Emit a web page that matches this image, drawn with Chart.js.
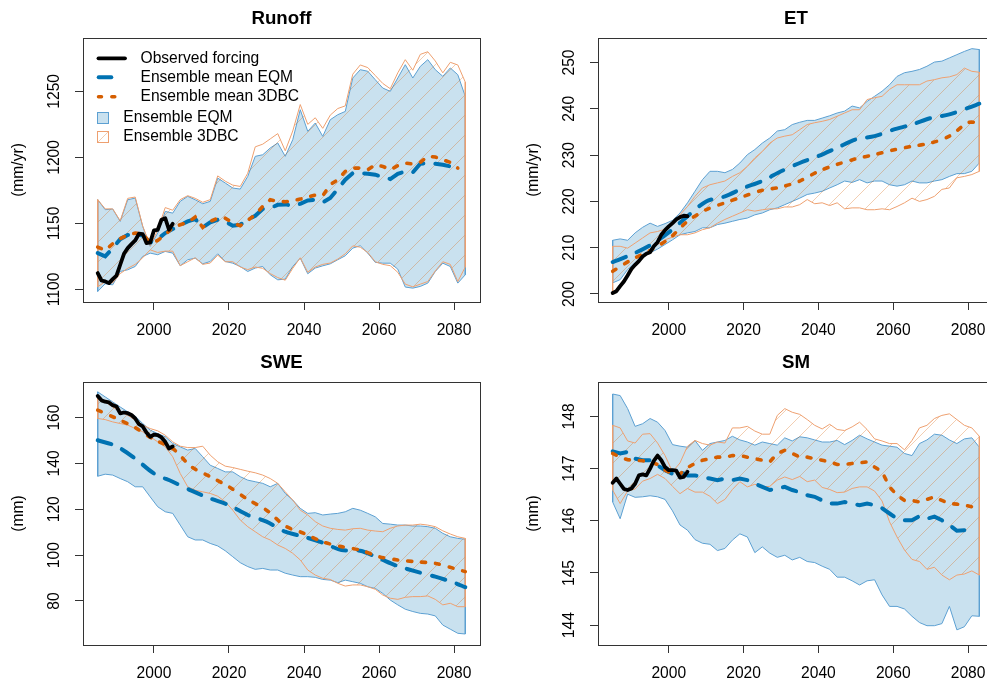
<!DOCTYPE html>
<html><head><meta charset="utf-8">
<script src="https://cdn.jsdelivr.net/npm/chart.js@4.4.1/dist/chart.umd.min.js"></script>
<style>
html,body{margin:0;padding:0;background:#fff;overflow:hidden;width:987px;height:684px;position:relative;}
canvas{position:absolute;}
</style></head><body>
<canvas id="c1" width="494" height="342" style="left:0;top:0"></canvas>
<canvas id="c2" width="510" height="342" style="left:494px;top:0"></canvas>
<canvas id="c3" width="494" height="342" style="left:0;top:342px"></canvas>
<canvas id="c4" width="510" height="342" style="left:494px;top:342px"></canvas>
<script>
// ---------- x positions ----------
const bandYears = [1985,1987,1989,1991,1993,1995,1997,1999,2001,2003,2005,2007,2009,2011,2013,2015,2017,2019,2021,2023,2025,2027,2029,2031,2033,2035,2037,2039,2041,2043,2045,2047,2049,2051,2053,2055,2057,2059,2061,2063,2065,2067,2069,2071,2073,2075,2077,2079,2081,2083];
const obsYears = [1985,1986,1987,1988,1989,1990,1991,1992,1993,1994,1995,1996,1997,1998,1999,2000,2001,2002,2003,2004,2005];
const meanYears5 = [1985,1990,1995,2000,2005,2010,2015,2020,2025,2030,2035,2040,2045,2050,2055,2060,2065,2070,2075,2080,2083];
const xTicks = [2000,2020,2040,2060,2080];

// ---------- Runoff ----------
const runoffTicks = [1100,1150,1200,1250];
const runoffEqmUpper = [1167.9,1160.4,1160.9,1151.5,1167.9,1169.2,1147.7,1132.6,1142.7,1159.1,1157.8,1166.7,1170.5,1167.9,1164.9,1166.7,1184.3,1180.6,1176.8,1176.0,1185.6,1200.8,1202.0,1207.1,1210.9,1200.8,1213.4,1236.1,1219.7,1226.0,1215.9,1228.5,1232.3,1234.8,1260.1,1266.4,1265.2,1258.8,1252.5,1250.0,1260.1,1270.2,1260.1,1268.9,1274.0,1266.4,1261.4,1267.7,1262.6,1246.2];
const runoffEqmLower = [1098.5,1104.3,1103.5,1113.6,1114.9,1117.4,1125,1127.5,1126.3,1128.8,1127.5,1117.9,1122.5,1123.7,1119.4,1121.2,1127,1121.2,1119.9,1117.4,1113.6,1116.2,1117.4,1111.1,1107.3,1107.8,1117.4,1123.7,1111.9,1116.2,1117.9,1119.4,1122.5,1125.5,1131.3,1133.1,1127.5,1120.5,1119.9,1119.9,1115.4,1101.8,1101,1102.3,1104.8,1113.6,1119.9,1117.4,1104.8,1111.1];
const runoff3dbcUpper = [1168,1161,1161,1152,1169,1170,1148,1133,1145,1162,1160,1168,1171,1169,1166,1168,1186,1182,1179,1178,1188,1208,1210,1214,1218,1205,1220,1240,1225,1230,1222,1232,1237,1239,1263,1270,1268,1262,1256,1252,1264,1274,1266,1278,1280,1273,1264,1272,1270,1257];
const runoff3dbcLower = [1102,1106,1105,1112,1116,1119,1124,1130,1128,1129,1129,1118,1121,1124,1119,1120,1126,1121,1121,1117,1115,1117,1116,1112,1109,1107,1116,1124,1113,1117,1119,1120,1123,1127,1133,1132,1128,1121,1119,1118,1113,1104,1102,1104,1106,1114,1121,1119,1106,1117];
const runoffEqmMean = [1127.5,1125,1131.3,1138.1,1141.2,1141.9,1140.9,1135.6,1138.1,1142.7,1145.7,1148.7,1151.5,1153.3,1147,1150.8,1152.8,1151.5,1148.2,1149,1152.8,1155.8,1160.9,1161.6,1164.1,1164.4,1163.4,1164.9,1167.4,1167.9,1165.9,1169.2,1176,1183.1,1188.1,1188.1,1187.6,1186.9,1185.1,1183.6,1187.6,1189.4,1188.6,1195.2,1195.7,1195.2,1194.4,1193.2,1189.4,null];
const runoff3dbcMean = [1132.1,1129.5,1134.6,1138.6,1141.2,1142.7,1142.2,1135.1,1137.1,1141.4,1147,1149,1150.8,1154.8,1147,1151.5,1154,1154,1150.3,1148.2,1152.3,1156.6,1162.9,1167.9,1166.7,1166.4,1167.2,1168.4,1169.9,1171.5,1171,1179.3,1183.1,1189.4,1191.9,1191.9,1190.7,1194.4,1193.2,1190.7,1193.7,1195.7,1195,1196.2,1200.8,1200.3,1198.2,1196.2,1191.9,null];
const runoffObs = [1112.4,1106.8,1106.1,1104.8,1107.8,1110.4,1118.7,1127,1131.3,1134.3,1137.1,1142.2,1141.9,1135.1,1135.6,1144.7,1145.2,1152.8,1154,1145.2,1149.7];

// ---------- ET ----------
const etTicks = [200,210,220,230,240,250];
const etEqmUpper = [211.6,211.9,211.6,213.2,214.4,215.3,214.6,215.2,215.9,217.5,219.7,222.2,224.7,226.5,226.5,226.2,226.9,228.3,230.1,231.2,232.6,233.7,235.2,235.5,236.6,237.1,237.5,237.5,238.0,238.5,239.1,239.5,240.6,240.2,241.6,242.7,243.8,245.2,247.0,247.8,248.1,248.5,249.2,250.1,250.3,251.0,251.7,252.4,253.0,252.8];
const etEqmLower = [202.4,203.1,205.3,206.7,208.1,208.9,209.7,210.7,211.7,212.8,213.2,213.5,214.3,214.3,215.0,215.3,215.7,216.1,216.4,217.1,217.5,218.2,218.6,219.3,220.0,220.7,221.5,221.8,222.2,222.9,223.6,224.4,224.1,224.7,224.0,224.4,224.4,223.6,223.3,223.6,224.4,224.0,224.0,224.4,224.7,225.4,226.0,226.0,226.5,228.3];
const et3dbcUpper = [210.3,210.3,209.9,211.0,212.1,213.2,213.5,214.0,215.3,217.1,218.9,221.1,222.9,223.6,224.0,224.4,225.4,226.2,227.6,229.4,230.8,232.6,233.7,234.1,234.4,235.5,236.6,237.0,237.3,237.7,238.4,239.1,239.8,239.8,242.0,242.4,242.7,244.2,245.2,245.2,245.2,245.2,246.0,246.3,246.7,246.9,247.4,248.8,248.1,247.9];
const et3dbcLower = [200.2,201.7,203.8,206.0,207.8,209.6,210.7,211.7,212.3,212.8,212.8,213.2,213.9,214.3,215.3,216.1,216.8,217.5,218.2,217.9,218.2,218.4,218.4,218.8,218.8,219.3,220.4,219.5,219.7,219.1,219.7,218.4,218.6,218.6,218.2,218.2,218.4,218.2,218.9,219.7,220.7,220.0,220.4,221.1,222.6,222.9,225.1,225.4,225.8,226.5];
const etEqmMean = [206.9,208.5,210.5,213.3,216.8,220.0,221.1,222.9,224.4,226.5,228.3,229.8,231.6,233.4,234.1,235.5,236.6,238.0,238.8,240.2,241.1];
const et3dbcMean = [204.9,207.4,209.4,211.9,215.7,218.2,219.7,221.1,222.4,223.1,224.4,226.5,228.0,229.2,230.1,231.1,231.9,232.6,234.1,237.0,237.0];
const etObs = [200.2,200.6,201.7,202.7,204.0,205.4,206.3,207.1,208.1,208.7,209.0,210.3,211.2,212.8,213.8,214.6,215.3,216.1,216.6,216.9,216.8];

// ---------- SWE ----------
const sweTicks = [80,100,120,140,160];
const sweEqmUpper = [171.2,169.0,166.8,164.6,162.5,160.6,157.4,154.5,153.0,151.6,148.7,147.2,145.8,146.5,142.9,139.2,137.8,136.3,136.3,134.2,132.7,132.0,131.3,129.8,131.3,126.9,124.0,120.4,118.2,118.5,117.5,117.9,118.2,118.9,120.4,119.6,118.2,116.7,113.8,113.5,113.1,113.1,112.7,112.7,112.4,111.7,109.5,108.0,107.3,106.9];
const sweEqmLower = [134.4,135.3,134.9,133.4,132.0,129.8,129.8,125.4,121.1,118.9,118.2,113.1,108.0,106.6,106.6,105.1,104.0,101.9,99.3,96.7,95.0,93.8,94.2,93.5,93.5,92.1,91.3,90.6,90.6,90.3,89.4,89.1,88.0,89.1,88.4,87.7,86.2,85.5,83.3,80.4,78.3,76.4,75.4,74.6,74.3,73.5,69.5,67.7,65.9,65.6];
const swe3dbcUpper = [169.7,166.8,164.6,162.5,161.0,158.8,156.7,155.2,154.2,152.3,149.4,147.5,146.9,146.9,147.5,143.6,140.7,138.8,138.2,137.4,136.6,135.9,134.9,133.4,131.3,127.6,124.0,119.6,117.5,114.6,112.7,111.7,111.2,110.9,111.5,111.7,110.9,110.5,110.2,111.7,112.7,113.1,113.1,113.5,113.1,112.4,110.6,109.2,108.0,107.3];
const swe3dbcLower = [159.6,159.1,158.1,157.4,156.7,155.2,153.8,151.6,149.4,147.2,142.9,135.6,129.8,128.3,127.6,126.9,125.7,123.3,119.6,115.3,112.4,110.2,108.0,106.6,104.4,102.9,100.8,97.9,93.5,91.3,89.9,89.4,87.7,86.5,87.0,87.0,86.2,85.1,82.6,81.2,80.7,81.6,81.9,81.9,82.2,80.7,78.3,79.0,77.5,77.5];
const sweEqmMean = [150.1,147.5,142.1,135.6,132.0,128.1,124.7,121.8,117.5,114.6,110.2,108.0,105.4,102.2,101.9,98.6,95.2,92.8,90.6,88.0,86.0];
const swe3dbcMean = [163.2,159.6,155.6,150.4,146.5,138.5,134.2,129.8,124.3,119.6,112.7,109.5,105.8,103.7,102.2,99.3,97.9,97.1,96.4,94.2,92.8];
const sweObs = [169.4,167.5,166.9,166.6,165.4,164.8,161.8,162.2,161.9,161.1,159.6,157.1,156.1,153.5,151.6,152.6,152.3,151.3,149.4,146.5,147.4];

// ---------- SM ----------
const smTicks = [144,145,146,147,148];
const smEqmUpper = [148.43,148.40,148.15,147.81,147.86,147.96,147.89,147.73,147.46,147.43,147.41,147.54,147.35,147.48,147.51,147.54,147.62,147.55,147.51,147.45,147.51,147.48,147.45,147.59,147.53,147.61,147.59,147.55,147.51,147.51,147.54,147.46,147.54,147.64,147.57,147.51,147.45,147.43,147.41,147.29,147.25,147.48,147.55,147.66,147.64,147.55,147.48,147.57,147.59,147.41];
const smEqmLower = [146.36,146.04,146.51,146.45,146.46,146.48,146.46,146.41,146.19,145.92,145.82,145.64,145.57,145.55,145.43,145.47,145.63,145.75,145.69,145.39,145.50,145.38,145.30,145.34,145.25,145.30,145.22,145.20,145.13,145.07,144.92,144.92,144.85,144.77,144.85,144.87,144.58,144.36,144.36,144.31,144.17,144.05,143.99,143.99,144.03,144.36,143.91,143.97,144.18,144.17];
const sm3dbcUpper = [147.83,147.78,147.53,147.49,147.66,147.67,147.49,147.25,146.94,147.11,147.43,147.54,147.48,147.45,147.51,147.49,147.78,147.78,147.81,147.72,147.66,147.66,148.02,148.15,148.08,148.04,147.94,147.83,147.76,147.85,147.75,147.73,147.80,147.89,147.75,147.57,147.53,147.48,147.48,147.36,147.54,147.78,147.83,147.96,148.02,148.05,147.94,147.83,147.78,147.62];
const sm3dbcLower = [146.59,146.33,146.57,146.61,146.76,146.81,146.89,146.81,146.66,146.52,146.62,146.55,146.55,146.47,146.33,146.41,146.60,146.75,146.65,146.70,146.65,146.66,146.78,146.84,146.79,146.85,146.75,146.78,146.64,146.60,146.54,146.55,146.62,146.65,146.65,146.57,146.38,145.98,145.69,145.44,145.26,145.22,145.07,145.11,144.96,144.87,144.96,144.98,145.04,144.96];
const smEqmMean = [147.33,147.29,147.32,147.19,147.16,147.16,147.06,146.97,146.90,146.94,146.87,146.87,146.84,146.81,146.78,146.81,146.78,146.81,146.78,146.71,146.65,146.59,146.62,146.65,146.59,146.55,146.49,146.46,146.39,146.33,146.33,146.36,146.33,146.30,146.33,146.30,146.24,146.14,146.04,146.01,146.01,146.09,146.04,146.08,146.01,145.92,145.81,145.82,null,null];
const sm3dbcMean = [147.29,147.22,147.17,147.16,147.15,147.13,147.08,146.97,146.90,146.90,147.02,147.10,147.16,147.19,147.22,147.22,147.25,147.25,147.22,147.19,147.16,147.13,147.29,147.35,147.29,147.22,147.22,147.19,147.16,147.13,147.08,147.08,147.10,147.11,147.13,147.03,146.94,146.65,146.49,146.39,146.39,146.36,146.41,146.46,146.39,146.33,146.32,146.30,146.27,146.27];
const smObs = [146.73,146.81,146.71,146.61,146.59,146.62,146.71,146.87,146.89,146.87,147.00,147.15,147.25,147.16,147.03,146.97,146.97,146.96,146.83,146.84,146.94];

// ---------- styling ----------
const FONT = '"Liberation Sans", Arial, Helvetica, sans-serif';
const BLUE = '#0072B2', ORANGE = '#D55E00';
const BLUE_FILL = 'rgba(0,114,178,0.21)';
const BLUE_EDGE = 'rgb(92,160,210)';
const ORANGE_EDGE = 'rgb(238,160,112)';
const HATCH_COL = 'rgba(213,94,0,0.3)';

function hatchPattern(ctx) {
  const s = 20, c = document.createElement('canvas');
  c.width = s; c.height = s;
  const g = c.getContext('2d');
  g.strokeStyle = HATCH_COL; g.lineWidth = 1;
  g.beginPath();
  g.moveTo(0, s); g.lineTo(s, 0);
  g.moveTo(-s, s); g.lineTo(s, -s);
  g.moveTo(0, 2 * s); g.lineTo(2 * s, 0);
  g.stroke();
  return ctx.createPattern(c, 'repeat');
}
const zip = (xs, ys) => xs.map((x, i) => ({x: x, y: ys[i]}));
const edges = (xs, up, lo) => {
  const n = xs.length - 1;
  return [{x: xs[0], y: up[0]}, {x: xs[0], y: lo[0]}, {x: xs[0], y: null},
          {x: xs[n], y: up[n]}, {x: xs[n], y: lo[n]}];
};

const textPlugin = {
  id: 'rtext',
  afterDraw(chart) {
    const o = chart.options.plugins.rtext;
    const ctx = chart.ctx, a = chart.chartArea;
    const xs = chart.scales.x, ys = chart.scales.y;
    ctx.save();
    ctx.strokeStyle = '#333'; ctx.lineWidth = 1;
    ctx.strokeRect(Math.round(a.left) + 0.5, Math.round(a.top) + 0.5, Math.round(a.right - a.left), Math.round(a.bottom - a.top));
    ctx.fillStyle = '#000';
    ctx.font = '15.6px ' + FONT;
    ctx.textAlign = 'center'; ctx.textBaseline = 'middle';
    xs.ticks.forEach(t => ctx.fillText(String(t.value), xs.getPixelForValue(t.value), a.bottom + 29));
    ys.ticks.forEach(t => {
      ctx.save();
      ctx.translate(a.left - 28.5, ys.getPixelForValue(t.value));
      ctx.rotate(-Math.PI / 2);
      ctx.fillText(String(t.value), 0, 0);
      ctx.restore();
    });
    ctx.save();
    ctx.translate(o.labelX, (a.top + a.bottom) / 2);
    ctx.rotate(-Math.PI / 2);
    ctx.fillText(o.ylabel, 0, 0);
    ctx.restore();
    ctx.font = 'bold 18.7px ' + FONT;
    ctx.fillText(o.title, (a.left + a.right) / 2, o.titleY);
    if (o.legend) drawLegend(ctx);
    ctx.restore();
  }
};

function drawLegend(ctx) {
  ctx.save();
  ctx.lineCap = 'round';
  ctx.strokeStyle = '#000'; ctx.lineWidth = 3.8;
  ctx.beginPath(); ctx.moveTo(98.5, 58.3); ctx.lineTo(125, 58.3); ctx.stroke();
  ctx.strokeStyle = BLUE; ctx.lineWidth = 4;
  ctx.beginPath(); ctx.moveTo(98.7, 77.3); ctx.lineTo(111.3, 77.3); ctx.stroke();
  ctx.strokeStyle = ORANGE; ctx.lineWidth = 3.5;
  ctx.beginPath(); ctx.moveTo(98.5, 96.7); ctx.lineTo(101.5, 96.7);
  ctx.moveTo(111.8, 96.7); ctx.lineTo(114.8, 96.7); ctx.stroke();
  ctx.lineCap = 'butt';
  ctx.fillStyle = BLUE_FILL; ctx.fillRect(97, 112, 11, 11);
  ctx.strokeStyle = BLUE_EDGE; ctx.lineWidth = 1; ctx.strokeRect(97.5, 112.5, 11, 11);
  ctx.strokeStyle = HATCH_COL;
  ctx.beginPath(); ctx.moveTo(97.5, 142.5); ctx.lineTo(108.5, 131.5); ctx.stroke();
  ctx.strokeStyle = ORANGE_EDGE; ctx.strokeRect(97.5, 131.5, 11, 11);
  ctx.fillStyle = '#000';
  ctx.font = '15.6px ' + FONT;
  ctx.textAlign = 'left'; ctx.textBaseline = 'middle';
  ctx.fillText('Observed forcing', 140.5, 58.3);
  ctx.fillText('Ensemble mean EQM', 140.5, 77.3);
  ctx.fillText('Ensemble mean 3DBC', 140.5, 96.7);
  ctx.fillText('Ensemble EQM', 123.3, 117.5);
  ctx.fillText('Ensemble 3DBC', 123.3, 136.7);
  ctx.restore();
}

function makePanel(p) {
  const canvas = document.getElementById(p.id);
  const ctx = canvas.getContext('2d');
  const meanX = p.meanYears;
  const thin = {pointRadius: 0, borderWidth: 1, fill: false, tension: 0};
  const datasets = [
    Object.assign({}, thin, {data: zip(bandYears, p.eqmUp), borderColor: BLUE_EDGE, fill: '+1', backgroundColor: BLUE_FILL, order: 10}),
    Object.assign({}, thin, {data: zip(bandYears, p.eqmLo), borderColor: BLUE_EDGE, order: 9}),
    Object.assign({}, thin, {data: edges(bandYears, p.eqmUp, p.eqmLo), borderColor: BLUE_EDGE, order: 9}),
    Object.assign({}, thin, {data: zip(bandYears, p.dbcUp), borderColor: ORANGE_EDGE, fill: '+1', backgroundColor: hatchPattern(ctx), order: 8}),
    Object.assign({}, thin, {data: zip(bandYears, p.dbcLo), borderColor: ORANGE_EDGE, order: 7}),
    Object.assign({}, thin, {data: edges(bandYears, p.dbcUp, p.dbcLo), borderColor: ORANGE_EDGE, order: 7}),
    {data: zip(meanX, p.eqmMean), borderColor: BLUE, borderWidth: 4, borderDash: [14, 12], borderCapStyle: 'round', pointRadius: 0, fill: false, tension: p.tension, order: 3},
    {data: zip(meanX, p.dbcMean), borderColor: ORANGE, borderWidth: 3.6, borderDash: [4, 10], borderCapStyle: 'round', pointRadius: 0, fill: false, tension: p.tension, order: 2},
    {data: zip(obsYears, p.obs), borderColor: '#000', borderWidth: 3.8, borderJoinStyle: 'round', borderCapStyle: 'round', pointRadius: 0, fill: false, tension: 0, order: 1}
  ];
  const tickGrid = {drawOnChartArea: false, drawTicks: true, tickLength: 8, color: '#333', lineWidth: 1};
  new Chart(ctx, {
    type: 'line',
    data: {datasets: datasets},
    options: {
      responsive: false, animation: false, devicePixelRatio: 1,
      layout: {padding: {top: p.padTop, right: p.padRight, left: 0, bottom: 0}},
      plugins: {
        legend: {display: false}, title: {display: false}, tooltip: {enabled: false},
        rtext: {title: p.title, ylabel: p.ylabel, labelX: p.labelX, titleY: p.titleY, legend: p.legend}
      },
      scales: {
        x: {type: 'linear', min: 1981.08, max: 2086.92,
            afterFit: s => { s.height = p.xh; },
            afterBuildTicks: s => { s.ticks = xTicks.map(v => ({value: v})); },
            ticks: {display: false}, grid: tickGrid, border: {display: false}},
        y: {type: 'linear', min: p.ymin, max: p.ymax,
            afterFit: s => { s.width = p.yw; },
            afterBuildTicks: s => { s.ticks = p.yTicks.map(v => ({value: v})); },
            ticks: {display: false}, grid: tickGrid, border: {display: false}}
      }
    },
    plugins: [textPlugin]
  });
}

makePanel({id: 'c1', title: 'Runoff', ylabel: '(mm/yr)', labelX: 18.3, titleY: 19.3, legend: true,
  padTop: 38, padRight: 14, yw: 83, xh: 40, ymin: 1090.5, ymax: 1290.4, yTicks: runoffTicks,
  eqmUp: runoffEqmUpper, eqmLo: runoffEqmLower, dbcUp: runoff3dbcUpper, dbcLo: runoff3dbcLower,
  meanYears: bandYears, eqmMean: runoffEqmMean, dbcMean: runoff3dbcMean, obs: runoffObs, tension: 0});
makePanel({id: 'c2', title: 'ET', ylabel: '(mm/yr)', labelX: 39.3, titleY: 19.3, legend: false,
  padTop: 38, padRight: 10, yw: 104, xh: 40, ymin: 198.27, ymax: 255.3, yTicks: etTicks,
  eqmUp: etEqmUpper, eqmLo: etEqmLower, dbcUp: et3dbcUpper, dbcLo: et3dbcLower,
  meanYears: meanYears5, eqmMean: etEqmMean, dbcMean: et3dbcMean, obs: etObs, tension: 0.3});
makePanel({id: 'c3', title: 'SWE', ylabel: '(mm)', labelX: 18.3, titleY: 20.7, legend: false,
  padTop: 40, padRight: 14, yw: 83, xh: 39, ymin: 60.8, ymax: 175.5, yTicks: sweTicks,
  eqmUp: sweEqmUpper, eqmLo: sweEqmLower, dbcUp: swe3dbcUpper, dbcLo: swe3dbcLower,
  meanYears: meanYears5, eqmMean: sweEqmMean, dbcMean: swe3dbcMean, obs: sweObs, tension: 0.3});
makePanel({id: 'c4', title: 'SM', ylabel: '(mm)', labelX: 39.3, titleY: 20.7, legend: false,
  padTop: 40, padRight: 10, yw: 104, xh: 39, ymin: 143.62, ymax: 148.66, yTicks: smTicks,
  eqmUp: smEqmUpper, eqmLo: smEqmLower, dbcUp: sm3dbcUpper, dbcLo: sm3dbcLower,
  meanYears: bandYears, eqmMean: smEqmMean, dbcMean: sm3dbcMean, obs: smObs, tension: 0});
</script>
</body></html>
